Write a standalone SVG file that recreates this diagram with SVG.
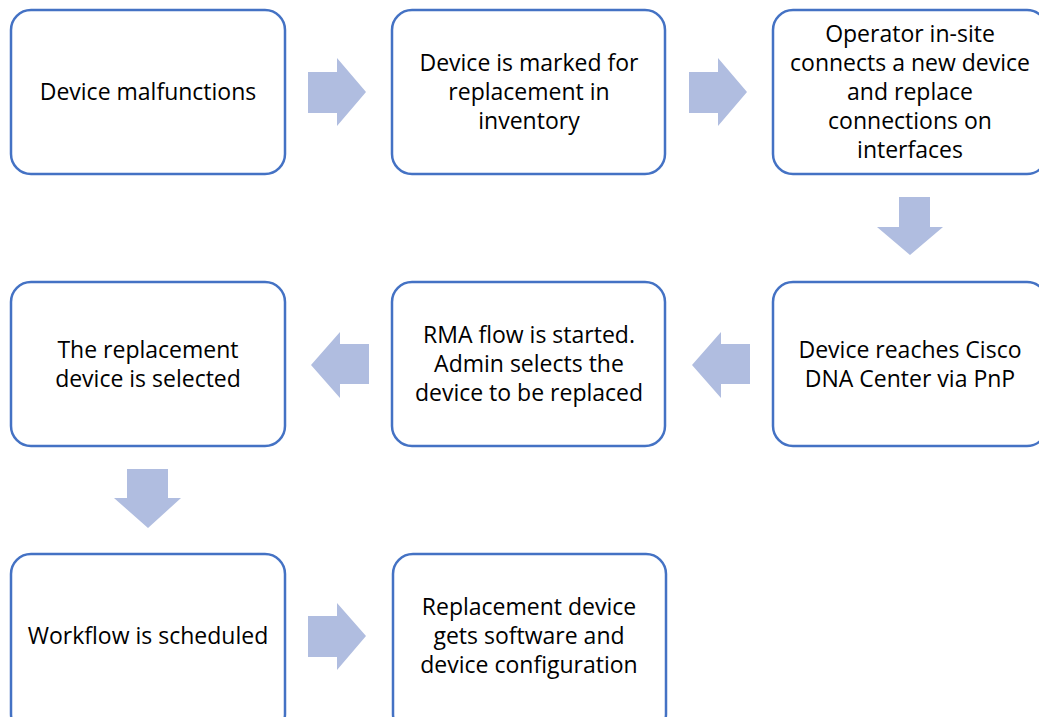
<svg xmlns="http://www.w3.org/2000/svg" width="1039" height="717" viewBox="0 0 1039 717">
<style>
.box{fill:#fff;stroke:#4472C4;stroke-width:2.5}
.arr{fill:#B0BDE0}
text{font-family:"Open Sans","Liberation Sans",sans-serif;font-size:23px;fill:#000;text-anchor:middle}
</style>
<rect width="1039" height="717" fill="#fff"/>
<g id="connectors">
<polygon class="arr" points="308,72 337,72 337,58 366,92 337,126 337,113 308,113"/>
<polygon class="arr" points="689,72 718,72 718,58 747,92 718,126 718,113 689,113"/>
<polygon class="arr" points="899,197 930,197 930,227 943,227 910,255 877,227 899,227"/>
<polygon class="arr" points="750,344 721,344 721,332 692,365 721,398 721,384 750,384"/>
<polygon class="arr" points="369,344 340,344 340,332 311,365 340,398 340,384 369,384"/>
<polygon class="arr" points="127,469 168,469 168,498 181,498 148,528 114,498 127,498"/>
<polygon class="arr" points="308,616 337,616 337,603 366,636 337,670 337,657 308,657"/>
</g>
<g id="n1"><rect class="box" x="11" y="10" width="274" height="164" rx="20"/>
<text x="148" y="100">Device malfunctions</text></g>
<g id="n2"><rect class="box" x="392" y="10" width="273" height="164" rx="20"/>
<text x="529" y="71">Device is marked for</text><text x="529" y="100">replacement in</text><text x="529" y="129">inventory</text></g>
<g id="n3"><rect class="box" x="773" y="10" width="274" height="164" rx="20"/>
<text x="910" y="42">Operator in-site</text><text x="910" y="71">connects a new device</text><text x="910" y="100">and replace</text><text x="910" y="129">connections on</text><text x="910" y="158">interfaces</text></g>
<g id="n4"><rect class="box" x="773" y="282" width="274" height="164" rx="20"/>
<text x="910" y="358">Device reaches Cisco</text><text x="910" y="387">DNA Center via PnP</text></g>
<g id="n5"><rect class="box" x="392" y="282" width="273" height="164" rx="20"/>
<text x="529" y="343">RMA flow is started.</text><text x="529" y="372">Admin selects the</text><text x="529" y="401">device to be replaced</text></g>
<g id="n6"><rect class="box" x="11" y="282" width="274" height="164" rx="20"/>
<text x="148" y="358">The replacement</text><text x="148" y="387">device is selected</text></g>
<g id="n7"><rect class="box" x="11" y="554" width="274" height="180" rx="20"/>
<text x="148" y="644">Workflow is scheduled</text></g>
<g id="n8"><rect class="box" x="393" y="554" width="273" height="180" rx="20"/>
<text x="529" y="615">Replacement device</text><text x="529" y="644">gets software and</text><text x="529" y="673">device configuration</text></g>
</svg>
